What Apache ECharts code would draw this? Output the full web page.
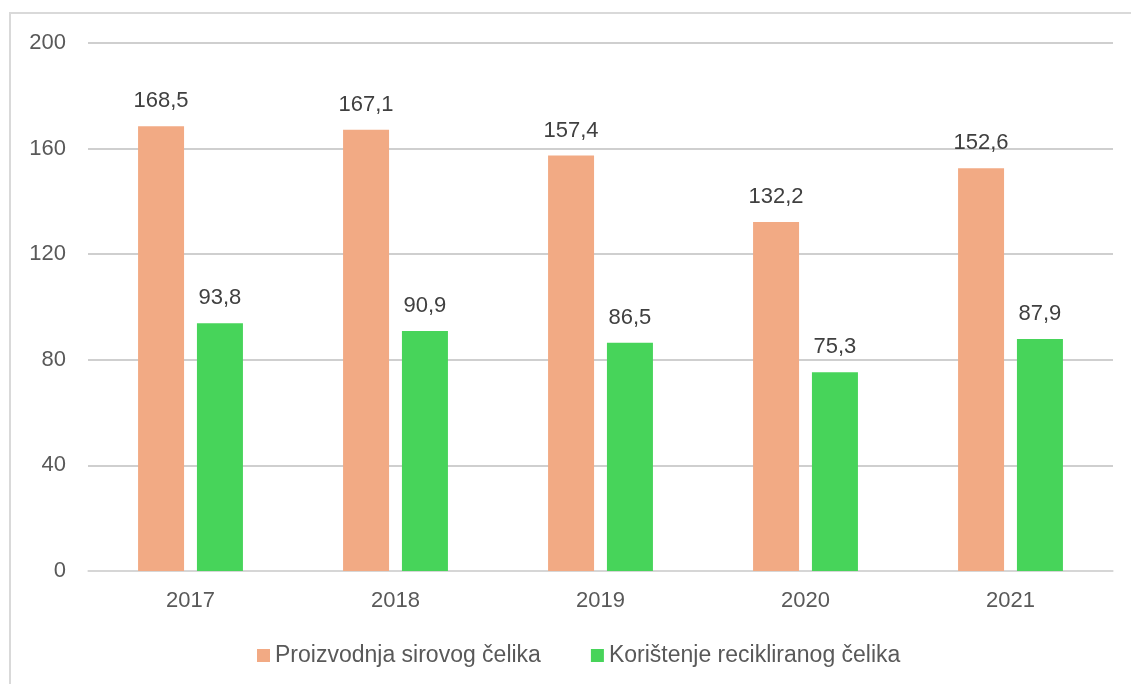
<!DOCTYPE html>
<html>
<head>
<meta charset="utf-8">
<script src="https://cdn.jsdelivr.net/npm/echarts@6/dist/echarts.min.js"></script>
<style>
  html, body { margin: 0; padding: 0; background: #fff; }
  #chart { width: 1131px; height: 684px; }
</style>
</head>
<body>
<div id="chart"></div>
<script>
// Godine i vrijednosti (milijuni tona)
const years = ['2017', '2018', '2019', '2020', '2021'];
const rawSteel = [168.5, 167.1, 157.4, 132.2, 152.6];
const recycledSteel = [93.8, 90.9, 86.5, 75.3, 87.9];
const seriesNames = ['Proizvodnja sirovog čelika', 'Korištenje recikliranog čelika'];
const yTicks = { min: 0, max: 200, interval: 40 };

const textColor = '#595959';
const baseFont = 'Liberation Sans, Arial, sans-serif';

const fmt = v => String(v).replace('.', ',');

const chart = echarts.init(document.getElementById('chart'), null, { renderer: 'canvas' });

const labelOpt = {
  show: true,
  position: 'top',
  distance: 14,
  color: '#404040',
  fontSize: 22,
  fontFamily: baseFont,
  formatter: p => fmt(p.value)
};

chart.setOption({
  animation: false,
  backgroundColor: '#fff',
  graphic: [{
    type: 'rect',
    shape: { x: 10, y: 13, width: 1130, height: 700 },
    style: { fill: 'none', stroke: '#d9d9d9', lineWidth: 2 },
    silent: true
  }],
  grid: { left: 88, right: 18, top: 43, bottom: 113 },
  legend: {
    bottom: 12,
    left: 252,
    icon: 'rect',
    itemWidth: 13,
    itemHeight: 13,
    itemGap: 50,
    textStyle: { color: textColor, fontSize: 23, fontFamily: 'Liberation Sans Narrow, Arial Narrow, sans-serif' },
    data: seriesNames
  },
  xAxis: {
    type: 'category',
    data: years,
    axisLine: { lineStyle: { color: '#d9d9d9', width: 1.5 } },
    axisTick: { show: false },
    axisLabel: { color: textColor, fontSize: 22, fontFamily: baseFont, margin: 19 }
  },
  yAxis: {
    type: 'value',
    min: yTicks.min,
    max: yTicks.max,
    interval: yTicks.interval,
    axisLine: { show: false },
    axisTick: { show: false },
    axisLabel: { color: textColor, fontSize: 22, fontFamily: baseFont, margin: 22 },
    splitLine: { lineStyle: { color: '#bfbfbf', width: 1.5 } }
  },
  series: [
    {
      name: seriesNames[0],
      type: 'bar',
      data: rawSteel,
      barWidth: 46,
      barGap: '28%',
      itemStyle: { color: '#f2aa84' },
      label: labelOpt
    },
    {
      name: seriesNames[1],
      type: 'bar',
      data: recycledSteel,
      barWidth: 46,
      itemStyle: { color: '#47d45a' },
      label: labelOpt
    }
  ]
});
</script>
</body>
</html>
